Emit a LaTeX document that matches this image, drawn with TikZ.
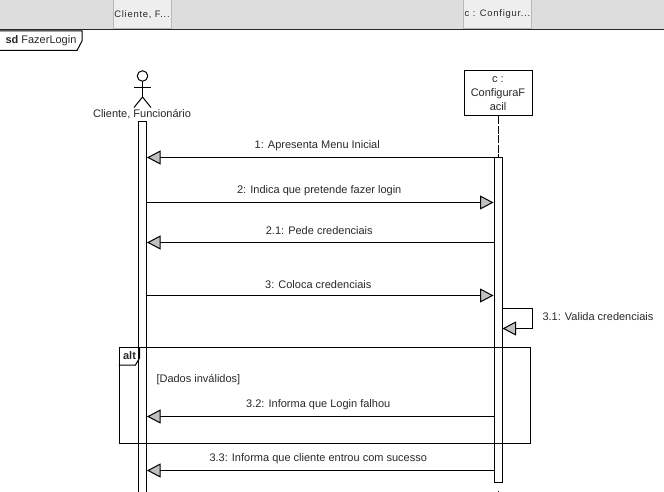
\documentclass[tikz,border=0pt]{standalone}
\usepackage{fontspec}
\setmainfont{Liberation Sans}
\newfontfamily\tabfont[LetterSpace=8]{Liberation Sans}
\definecolor{barfill}{RGB}{221,221,221}
\definecolor{tabfill}{RGB}{238,238,238}
\definecolor{tabedge}{RGB}{185,185,185}
\definecolor{tipfill}{RGB}{192,192,192}
\definecolor{labeltext}{RGB}{40,40,40}
\usetikzlibrary{positioning, arrows.meta}

\begin{document}
\begin{tikzpicture}[
  x=1pt, y=-1pt,
  line width=1pt,
  every node/.style={text=labeltext, font=\fontsize{11}{14}\selectfont},
  tabcell/.style={draw=tabedge, fill=tabfill, minimum height=29pt, inner sep=0pt, font=\tabfont\fontsize{9.4}{12}\selectfont},
  lifebox/.style={draw, fill=white, minimum width=68pt, minimum height=45pt, align=center, inner sep=0pt},
  actbar/.style={draw, fill=white, minimum width=8pt, inner sep=0pt},
  msg/.style={-{Triangle[length=13.5pt, width=14pt, fill=tipfill]}},
  msglabel/.style={midway, above=5.5pt, inner sep=1pt}
]
  \clip (0,0) rectangle (664,492);

  % Window strip with the two header cells
  \node[fill=barfill, minimum width=664pt, minimum height=29pt, inner sep=0pt] (strip) at (332,14.5) {};
  \node[tabcell, minimum width=58pt] (tabA) at (142,14.5) {Cliente, F...};
  \node[tabcell, minimum width=68pt] (tabC) at (497.5,14.5) {c : Configur...};
  \draw[line width=1.6pt, black!85] (strip.south west) -- (strip.south east);

  % Diagram name tab
  \node[anchor=west, inner sep=0pt] (sdname) at (5,41) {\textbf{sd} FazerLogin};
  \draw (0,31) -- (82,31) -- (82,41) -- (77,50.5) -- (0,50.5);

  % Actor
  \node[circle, draw, minimum size=10.5pt, inner sep=0pt] (head) at (142.5,76) {};
  \coordinate (hip) at (142.5,97);
  \draw (head.south) -- (hip);
  \draw (134,87.5) -- (151,87.5);
  \draw (134,107.5) -- (hip) -- (151,107.5);
  \node (actorA) at (142,114) {Cliente, Funcion\'ario};

  % Object and lifeline
  \node[lifebox] (boxC) at (498,93.5) {c :\\ConfiguraF\\acil};

  % Activation bars
  \node[actbar, minimum height=390pt] (barA) at (142.5,316.5) {};
  \node[actbar, minimum height=325pt] (barC) at (498,320) {};
  \coordinate (endC) at (498,492);
  \draw[dash pattern=on 8pt off 1.5pt] (boxC.south) -- (barC.north);
  \draw[dash pattern=on 0pt off 8pt on 3pt off 8pt] (barC.south) -- (endC);

  % Messages
  \draw[msg] (barC.west |- 0,157.5) -- (barA.east |- 0,157.5)
    node[msglabel, xshift=-3pt] {1: Apresenta Menu Inicial};
  \draw[msg] (barA.east |- 0,202.5) -- (barC.west |- 0,202.5)
    node[msglabel, xshift=-1pt] {2: Indica que pretende fazer login};
  \draw[msg] (barC.west |- 0,242.5) -- (barA.east |- 0,242.5)
    node[msglabel, xshift=-1pt, yshift=0.7pt] {2.1: Pede credenciais};
  \draw[msg] (barA.east |- 0,295.5) -- (barC.west |- 0,295.5)
    node[msglabel, xshift=-2pt] {3: Coloca credenciais};

  % Self message
  \coordinate (loopA) at (532.5,308.5);
  \coordinate (loopB) at (532.5,328.5);
  \draw[msg] (barC.east |- loopA) -- (loopA) -- (loopB) -- (barC.east |- loopB);
  \node[anchor=west, inner sep=0pt] (loopname) at (542,316.5) {3.1: Valida credenciais};

  % Alternative fragment
  \node[draw, minimum width=411pt, minimum height=96pt, inner sep=0pt] (altbox) at (324.5,395.5) {};
  \draw (altbox.north west) ++(0,18) -- ++(17,0) -- ++(4,-7) -- ++(0,-11);
  \node[inner sep=0pt] (altname) at (129.5,356) {\textbf{alt}};
  \node[anchor=west, inner sep=0pt] (guard) at (156,379.5) {[Dados inv\'alidos]};

  \draw[msg] (barC.west |- 0,416.5) -- (barA.east |- 0,416.5)
    node[msglabel, xshift=-2pt] {3.2: Informa que Login falhou};
  \draw[msg] (barC.west |- 0,470.5) -- (barA.east |- 0,470.5)
    node[msglabel, xshift=-2pt] {3.3: Informa que cliente entrou com sucesso};
\end{tikzpicture}
\end{document}
